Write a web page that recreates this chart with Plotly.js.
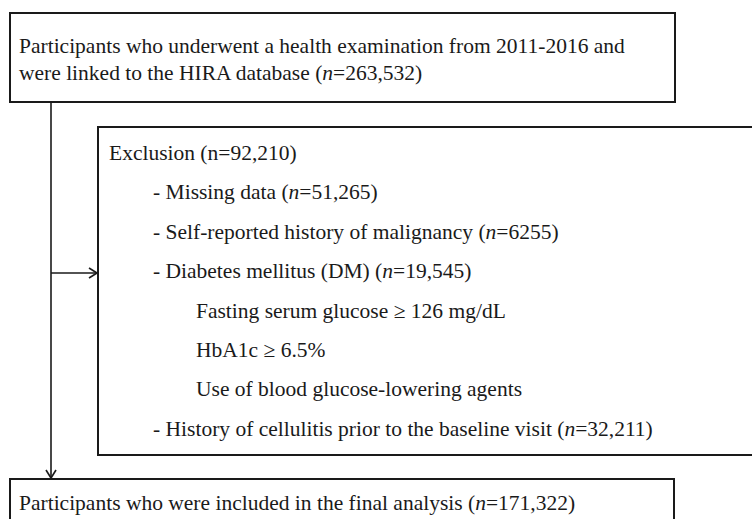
<!DOCTYPE html>
<html>
<head>
<meta charset="utf-8">
<script src="https://cdn.plot.ly/plotly-3.0.1.min.js"></script>
<style>html,body{margin:0;padding:0;background:#fff;}#chart{width:752px;height:519px;}</style>
</head>
<body>
<div id="chart"></div>
<script>
// Flowchart content
const topBoxLines = [
  "Participants who underwent a health examination from 2011-2016 and",
  "were linked to the HIRA database (<i>n</i>=263,532)"
];
const exclusionTitle = "Exclusion (n=92,210)";
const exclusionItems = [
  "- Missing data (<i>n</i>=51,265)",
  "- Self-reported history of malignancy (<i>n</i>=6255)",
  "- Diabetes mellitus (DM) (<i>n</i>=19,545)",
  "Fasting serum glucose \u2265 126 mg/dL",
  "HbA1c \u2265 6.5%",
  "Use of blood glucose-lowering agents",
  "- History of cellulitis prior to the baseline visit (<i>n</i>=32,211)"
];
const exclusionLevels = [1, 1, 1, 2, 2, 2, 1];
const finalBoxLines = ["Participants who were included in the final analysis (<i>n</i>=171,322)"];

// Layout geometry (pixel space)
const W = 752, H = 519;
const FONT = {family: "Liberation Serif, Times New Roman, serif", size: 21.5, color: "#1a1a1a"};
const boxLine = {color: "#1a1a1a", width: 2};
const box1 = {x0: 10, y0: 13, x1: 675, y1: 102};
const box2 = {x0: 98, y0: 127, x1: 770, y1: 455};
const box3 = {x0: 10, y0: 479, x1: 674, y1: 540};
const trunkX = 51, branchY = 273;
const levelX = {0: 107, 1: 151, 2: 194};
const lineStep = 39.4, exclFirstY = 153;

const shapes = [];
[box1, box2, box3].forEach(b => shapes.push({type: "rect", xref: "x", yref: "y", x0: b.x0, y0: b.y0, x1: b.x1, y1: b.y1, line: boxLine, fillcolor: "rgba(0,0,0,0)"}));
const thin = {color: "#1a1a1a", width: 1.6};
shapes.push({type: "line", xref: "x", yref: "y", x0: trunkX, y0: box1.y1, x1: trunkX, y1: box3.y0 - 1, line: thin});
shapes.push({type: "line", xref: "x", yref: "y", x0: trunkX - 5, y0: box3.y0 - 9, x1: trunkX, y1: box3.y0 - 1, line: thin});
shapes.push({type: "line", xref: "x", yref: "y", x0: trunkX + 5, y0: box3.y0 - 9, x1: trunkX, y1: box3.y0 - 1, line: thin});
shapes.push({type: "line", xref: "x", yref: "y", x0: trunkX, y0: branchY, x1: box2.x0 - 1, y1: branchY, line: thin});
shapes.push({type: "line", xref: "x", yref: "y", x0: box2.x0 - 9, y0: branchY - 5, x1: box2.x0 - 1, y1: branchY, line: thin});
shapes.push({type: "line", xref: "x", yref: "y", x0: box2.x0 - 9, y0: branchY + 5, x1: box2.x0 - 1, y1: branchY, line: thin});

const annotations = [];
function addText(t, x, y) {
  annotations.push({text: t, x: x, y: y, xref: "x", yref: "y", xanchor: "left", yanchor: "middle", showarrow: false, font: FONT, align: "left"});
}
topBoxLines.forEach((t, i) => addText(t, 17, 46 + i * 27));
addText(exclusionTitle, levelX[0], exclFirstY);
exclusionItems.forEach((t, i) => addText(t, levelX[exclusionLevels[i]], exclFirstY + (i + 1) * lineStep));
finalBoxLines.forEach((t, i) => addText(t, 17, 503 + i * 27));

const layout = {
  width: W, height: H,
  margin: {l: 0, r: 0, t: 0, b: 0},
  paper_bgcolor: "#fff", plot_bgcolor: "#fff",
  xaxis: {range: [0, W], visible: false, fixedrange: true},
  yaxis: {range: [H, 0], visible: false, fixedrange: true},
  shapes: shapes,
  annotations: annotations,
  showlegend: false
};
Plotly.newPlot("chart", [], layout, {displayModeBar: false, staticPlot: true});
</script>
</body>
</html>
